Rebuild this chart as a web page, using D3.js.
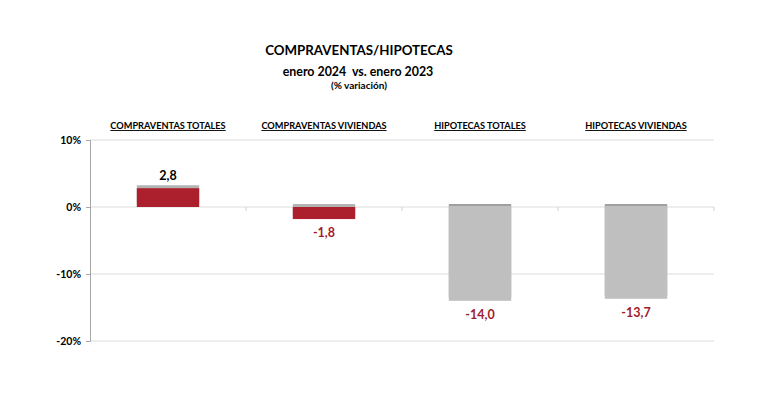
<!DOCTYPE html>
<html>
<head>
<meta charset="utf-8">
<script src="https://cdn.jsdelivr.net/npm/d3@7"></script>
<style>
  body { margin: 0; background: #fff; }
  svg text { font-family: Lato, "Open Sans", sans-serif; font-weight: bold; }
</style>
</head>
<body>
<svg id="chart"></svg>
<script>
var categories = ["COMPRAVENTAS TOTALES", "COMPRAVENTAS VIVIENDAS", "HIPOTECAS TOTALES", "HIPOTECAS VIVIENDAS"];
var values = [2.8, -1.8, -14.0, -13.7];
var labels = ["2,8", "-1,8", "-14,0", "-13,7"];
var barColors = ["#ac1f2d", "#ac1f2d", "#bfbfbf", "#bfbfbf"];
var labelColors = ["#000000", "#a01c2c", "#a01c2c", "#a01c2c"];
var yTicks = [10, 0, -10, -20];

var svg = d3.select("#chart").attr("width", 770).attr("height", 398),
    margin = {top: 140, left: 90},
    width = 624,
    height = 201;

var g = svg.append("g")
  .attr("transform", "translate(" + margin.left + "," + margin.top + ")");

// scales
var x = d3.scaleBand().domain(categories).range([0, width])
  .paddingInner(0.6).paddingOuter(0.3);
var y = d3.scaleLinear().domain([-20, 10]).range([height, 0]);

// gridlines
g.selectAll(".grid")
  .data(yTicks)
  .enter().append("line")
  .attr("x1", 0).attr("x2", width)
  .attr("y1", function(d) { return y(d); })
  .attr("y2", function(d) { return y(d); })
  .attr("stroke", "#dcdcdc")
  .attr("stroke-width", 1);

// y axis
var yAxis = d3.axisLeft(y).tickValues(yTicks).tickSize(4)
  .tickFormat(function(d) { return d + "%"; });
var yAxisEl = g.append("g").call(yAxis);
yAxisEl.select(".domain").attr("stroke", "#a6a6a6");
yAxisEl.selectAll(".tick line").attr("stroke", "#a6a6a6");
yAxisEl.selectAll(".tick text")
  .attr("x", -9)
  .style("font-size", "10.5px")
  .style("font-family", "Lato, sans-serif")
  .style("font-weight", "bold")
  .attr("fill", "#000");

// small ticks on zero line at category boundaries
var bounds = [1, 2, 3, 4];
g.selectAll(".xtick")
  .data(bounds)
  .enter().append("line")
  .attr("x1", function(d) { return d * x.step(); })
  .attr("x2", function(d) { return d * x.step(); })
  .attr("y1", y(0)).attr("y2", y(0) + 4)
  .attr("stroke", "#d0d0d0");

// category headers
g.selectAll(".cat")
  .data(categories)
  .enter().append("text")
  .attr("x", function(d) { return x(d) + x.bandwidth() / 2; })
  .attr("y", -11)
  .attr("text-anchor", "middle")
  .style("font-size", "9.2px")
  .style("text-decoration", "underline")
  .text(function(d) { return d; });

// gray shadow cap behind bars
g.selectAll(".shadow")
  .data(values)
  .enter().append("rect")
  .attr("x", function(d, i) { return x(categories[i]); })
  .attr("width", x.bandwidth())
  .attr("y", function(d) { return Math.min(y(d), y(0)) - 3; })
  .attr("height", function(d) { return Math.abs(y(d) - y(0)); })
  .attr("fill", function(d, i) { return i < 2 ? "#b3b3b3" : "#a0a0a0"; });

// bars
g.selectAll(".bar")
  .data(values)
  .enter().append("rect")
  .attr("x", function(d, i) { return x(categories[i]); })
  .attr("width", x.bandwidth())
  .attr("y", function(d, i) { return i < 2 ? Math.min(y(d), y(0)) : Math.min(y(d), y(0)) - 1; })
  .attr("height", function(d, i) { return i < 2 ? Math.abs(y(d) - y(0)) : Math.abs(y(d) - y(0)) + 1; })
  .attr("fill", function(d, i) { return barColors[i]; });

// value labels
g.selectAll(".val")
  .data(values)
  .enter().append("text")
  .attr("x", function(d, i) { return x(categories[i]) + x.bandwidth() / 2; })
  .attr("y", function(d) { return d >= 0 ? y(d) - 8 : y(d) + 18; })
  .attr("text-anchor", "middle")
  .style("font-size", "12.5px")
  .attr("fill", function(d, i) { return labelColors[i]; })
  .text(function(d, i) { return labels[i]; });

// titles
svg.append("text").attr("x", 359).attr("y", 55).attr("text-anchor", "middle")
  .style("font-size", "13.3px").text("COMPRAVENTAS/HIPOTECAS");
svg.append("text").attr("x", 358).attr("y", 76).attr("text-anchor", "middle")
  .style("font-size", "12.4px").attr("xml:space", "preserve")
  .text("enero 2024  vs. enero 2023");
svg.append("text").attr("x", 359).attr("y", 89).attr("text-anchor", "middle")
  .style("font-size", "10px").text("(% variación)");
</script>
</body>
</html>
